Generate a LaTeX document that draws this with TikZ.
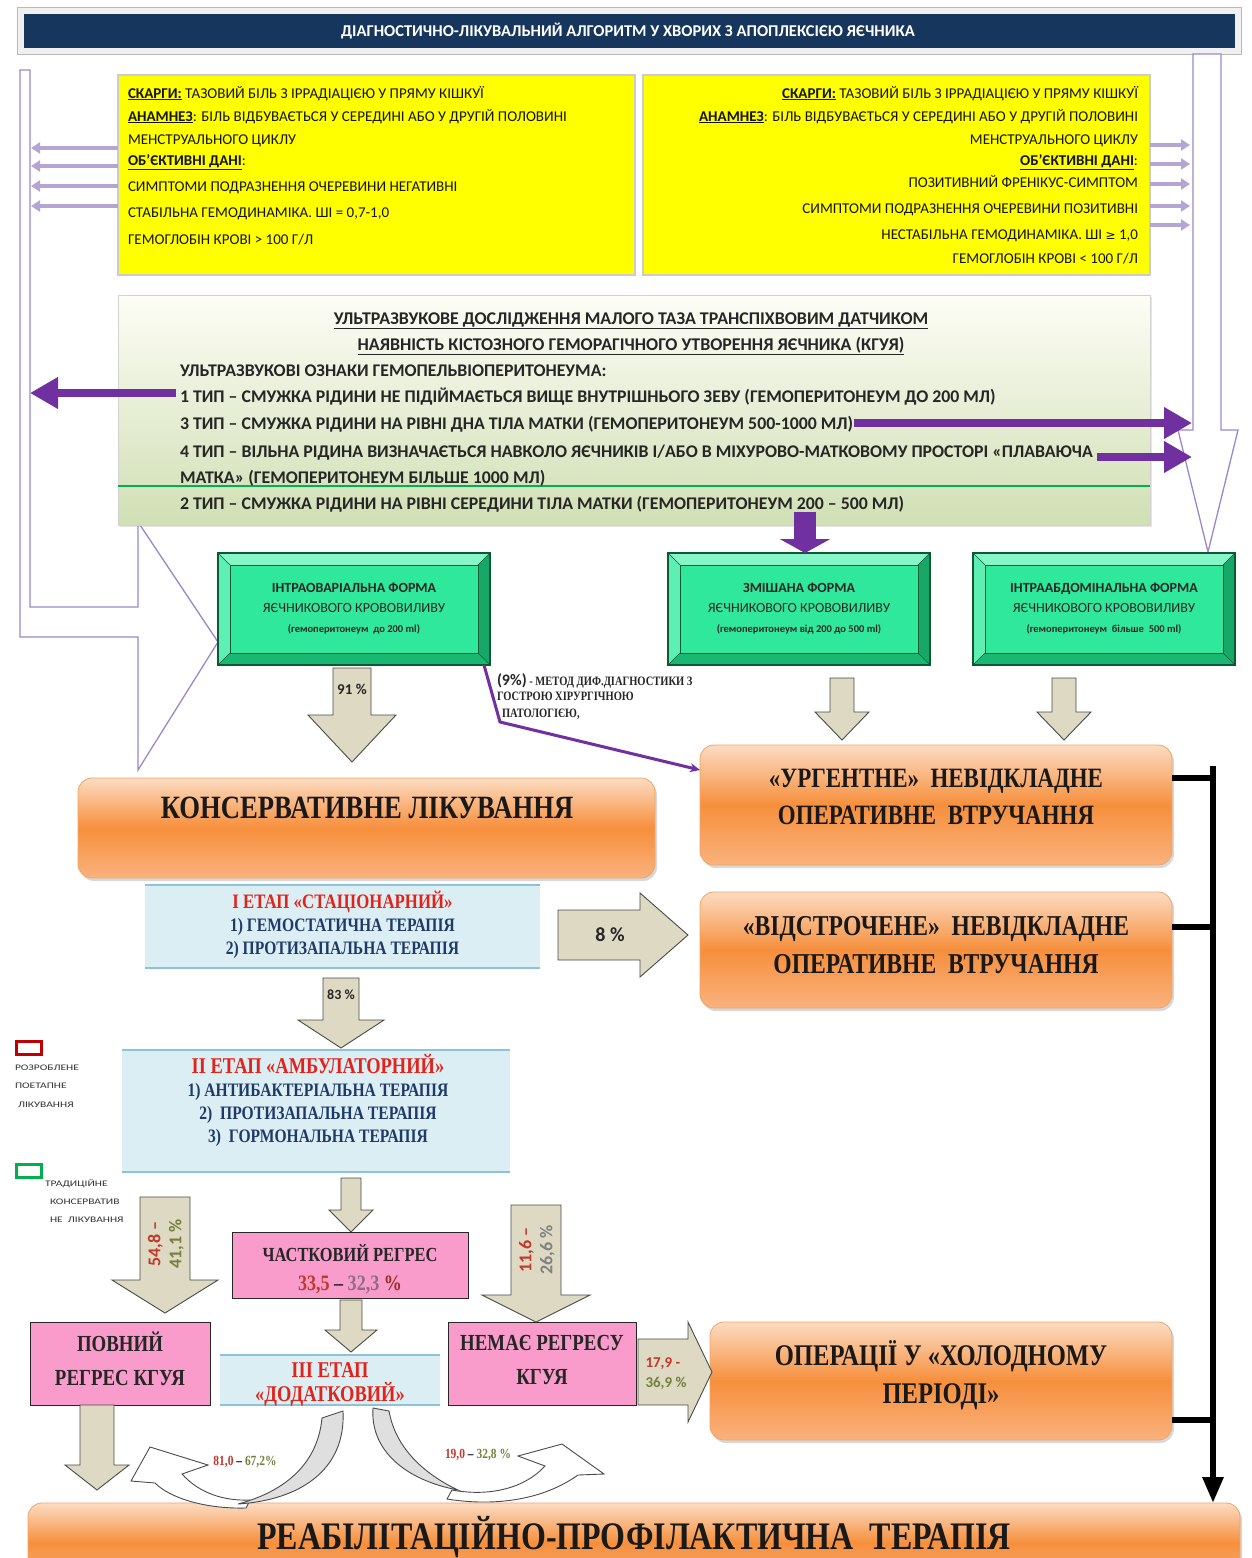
\documentclass[tikz,border=0pt]{standalone}
\usepackage{fontspec}
\setmainfont{Carlito}
\newfontfamily\serifb{Liberation Serif}[FakeStretch=0.82]
\newfontfamily\dejavu{DejaVu Sans}
\newfontfamily\widefont{Carlito}[FakeStretch=1.35]
\usetikzlibrary{arrows.meta,shadows,calc}
\definecolor{navy}{HTML}{17365D}
\definecolor{ylw}{HTML}{FFFF00}
\definecolor{lpur}{HTML}{B4A5D5}
\definecolor{hpur}{HTML}{9C88C8}
\definecolor{dpur}{HTML}{7030A0}
\definecolor{gline}{HTML}{00B050}
\definecolor{ustop}{HTML}{FDFDF6}
\definecolor{usbot}{HTML}{D0DFB4}
\definecolor{bvmid}{HTML}{2FE89C}
\definecolor{bvtop}{HTML}{86F6C8}
\definecolor{bvleft}{HTML}{5DEFB3}
\definecolor{bvbot}{HTML}{19B872}
\definecolor{bvright}{HTML}{17A766}
\definecolor{bvline}{HTML}{0B5A33}
\definecolor{garfill}{HTML}{DDD9C3}
\definecolor{garline}{HTML}{4A4A4A}
\definecolor{orA}{HTML}{FCDCC3}
\definecolor{orB}{HTML}{F68F3C}
\definecolor{orC}{HTML}{FAB27E}
\definecolor{orline}{HTML}{EFA467}
\definecolor{stfill}{HTML}{DBEEF4}
\definecolor{stline}{HTML}{8DC3D6}
\definecolor{stred}{HTML}{E2231A}
\definecolor{stblue}{HTML}{1F3A68}
\definecolor{pinkf}{HTML}{F99CCC}
\definecolor{pred}{HTML}{C0392B}
\definecolor{polive}{HTML}{76803E}
\definecolor{pmauve}{HTML}{8A6E86}
\definecolor{lgred}{HTML}{C00000}
\newcommand{\garrdown}[6]{\draw[garrow] ({#1-#5},#2) -- ({#1+#5},#2) -- ({#1+#5},#3) -- ({#1+#6},#3) -- (#1,#4) -- ({#1-#6},#3) -- ({#1-#5},#3) -- cycle;}
\newcommand{\garrright}[6]{\draw[garrow] (#2,{#1-#5}) -- (#3,{#1-#5}) -- (#3,{#1-#6}) -- (#4,#1) -- (#3,{#1+#6}) -- (#3,{#1+#5}) -- (#2,{#1+#5}) -- cycle;}
\newcommand{\bevelize}[1]{%
 \fill[bvtop] (#1.north west) -- (#1.north east) -- ([shift={(-12pt,-12pt)}]#1.north east) -- ([shift={(12pt,-12pt)}]#1.north west) -- cycle;
 \fill[bvleft] (#1.north west) -- ([shift={(12pt,-12pt)}]#1.north west) -- ([shift={(12pt,12pt)}]#1.south west) -- (#1.south west) -- cycle;
 \fill[bvbot] (#1.south west) -- ([shift={(12pt,12pt)}]#1.south west) -- ([shift={(-12pt,12pt)}]#1.south east) -- (#1.south east) -- cycle;
 \fill[bvright] (#1.north east) -- (#1.south east) -- ([shift={(-12pt,12pt)}]#1.south east) -- ([shift={(-12pt,-12pt)}]#1.north east) -- cycle;
 \draw[bvline, line width=0.6pt] ([shift={(12pt,-12pt)}]#1.north west) rectangle ([shift={(-12pt,12pt)}]#1.south east);
 \draw[bvline, line width=0.6pt] (#1.north west) -- ([shift={(12pt,-12pt)}]#1.north west)
   (#1.north east) -- ([shift={(-12pt,-12pt)}]#1.north east)
   (#1.south west) -- ([shift={(12pt,12pt)}]#1.south west)
   (#1.south east) -- ([shift={(-12pt,12pt)}]#1.south east);
 \draw[bvline, line width=1.2pt] (#1.north west) rectangle (#1.south east);}
\begin{document}
\begin{tikzpicture}[x=1pt,y=-1pt,
  every node/.style={inner sep=0pt, outer sep=0pt},
  yl/.style={anchor=base west, font=\fontsize{15}{18}\selectfont, text=black!92},
  yr/.style={anchor=base east, font=\fontsize{15}{18}\selectfont, text=black!92},
  ust/.style={anchor=base west, font=\bfseries\fontsize{17.8}{20}\selectfont, text=black!85},
  ustc/.style={anchor=base, font=\bfseries\fontsize{17.9}{20}\selectfont, text=black!85},
  hollow/.style={draw=hpur, line width=1.3pt, fill=white},
  lparrow/.style={lpur, line width=3.5pt, -{Triangle[width=11pt,length=9pt]}},
  parrow/.style={dpur, line width=8pt, -{Triangle[width=30pt,length=28pt]}},
  pthin/.style={dpur, line width=3pt, -{Stealth[length=10pt,width=9pt]}},
  garrow/.style={fill=garfill, draw=garline, line width=0.9pt},
  gbox/.style={fill=bvmid, align=center, font=\fontsize{14}{20}\selectfont, text=black!85},
  obox/.style={rounded corners=14pt, draw=orline, line width=0.8pt, top color=orA, bottom color=orC, middle color=orB, drop shadow={opacity=0.3, shadow xshift=2pt, shadow yshift=-3pt}},
  otext/.style={font=\serifb\bfseries\fontsize{28}{37}\selectfont, align=center, text=black!90},
  stbox/.style={fill=stfill},
  sttext/.style={font=\serifb\bfseries\fontsize{19}{23}\selectfont, align=center, text=stblue},
  pbox/.style={fill=pinkf, draw=black!85, line width=1pt},
  ptext/.style={align=center, font=\serifb\bfseries\fontsize{23}{34}\selectfont, text=black!85},
  blk/.style={black, line width=6pt},
  lgtext/.style={anchor=base west, font=\widefont\fontsize{8.5}{10}\selectfont, text=black!80},
  pct/.style={font=\bfseries\fontsize{15}{18}\selectfont, text=black!85},
  crv/.style={draw=garline, line width=0.9pt}
]
\useasboundingbox (0,0) rectangle (1251,1558);
\clip (0,0) rectangle (1251,1558);
\fill[white] (0,0) rectangle (1251,1558);

% title
\fill[gray!12, draw=gray!55, line width=0.8pt] (17,7) rectangle (1241,54);
\node[fill=navy, minimum width=1211pt, minimum height=34pt] (title) at (629,30.5) {};
\node[anchor=base, text=white, font=\bfseries\fontsize{16.5}{20}\selectfont] (titlet) at (628,36) {ДІАГНОСТИЧНО-ЛІКУВАЛЬНИЙ АЛГОРИТМ У ХВОРИХ З АПОПЛЕКСІЄЮ ЯЄЧНИКА};

% hollow arrows
\draw[hollow] (20,70) -- (30,70) -- (30,607) -- (138,607) -- (138,522) -- (218,642) -- (138,770) -- (138,637) -- (20,637) -- cycle;
\draw[hollow] (1193,54) -- (1221,54) -- (1221,430) -- (1238,430) -- (1208,552) -- (1178,430) -- (1193,430) -- cycle;

% yellow boxes
\node[fill=ylw, draw=gray!40, line width=1.5pt, minimum width=517pt, minimum height=200pt] (ly) at (376.5,175) {};
\node[fill=ylw, draw=gray!40, line width=1.5pt, minimum width=507pt, minimum height=200pt] (ry) at (896.5,175) {};
\node[yl] (yl1) at (128,98) {\textbf{\underline{СКАРГИ:}} ТАЗОВИЙ БІЛЬ З ІРРАДІАЦІЄЮ У ПРЯМУ КІШКУЇ};
\node[yl] (yl2) at (128,121) {\textbf{\underline{АНАМНЕЗ}}: БІЛЬ ВІДБУВАЄТЬСЯ У СЕРЕДИНІ АБО У ДРУГІЙ ПОЛОВИНІ};
\node[yl] (yl3) at (128,144) {МЕНСТРУАЛЬНОГО ЦИКЛУ};
\node[yl] (yl4) at (128,165) {\textbf{\underline{ОБ’ЄКТИВНІ ДАНІ}}:};
\node[yl] (yl5) at (128,191) {СИМПТОМИ ПОДРАЗНЕННЯ ОЧЕРЕВИНИ НЕГАТИВНІ};
\node[yl] (yl6) at (128,217) {СТАБІЛЬНА ГЕМОДИНАМІКА. ШІ = 0,7-1,0};
\node[yl] (yl7) at (128,244) {ГЕМОГЛОБІН КРОВІ > 100 Г/Л};
\node[yr] (yr1) at (1138,98) {\textbf{\underline{СКАРГИ:}} ТАЗОВИЙ БІЛЬ З ІРРАДІАЦІЄЮ У ПРЯМУ КІШКУЇ};
\node[yr] (yr2) at (1138,121) {\textbf{\underline{АНАМНЕЗ}}: БІЛЬ ВІДБУВАЄТЬСЯ У СЕРЕДИНІ АБО У ДРУГІЙ ПОЛОВИНІ};
\node[yr] (yr3) at (1138,144) {МЕНСТРУАЛЬНОГО ЦИКЛУ};
\node[yr] (yr4) at (1138,165) {\textbf{\underline{ОБ’ЄКТИВНІ ДАНІ}}:};
\node[yr] (yr5) at (1138,187) {ПОЗИТИВНИЙ ФРЕНІКУС-СИМПТОМ};
\node[yr] (yr6) at (1138,213) {СИМПТОМИ ПОДРАЗНЕННЯ ОЧЕРЕВИНИ ПОЗИТИВНІ};
\node[yr] (yr7) at (1138,239) {НЕСТАБІЛЬНА ГЕМОДИНАМІКА. ШІ {\dejavu\fontsize{12}{14}\selectfont ≥} 1,0};
\node[yr] (yr8) at (1138,263) {ГЕМОГЛОБІН КРОВІ < 100 Г/Л};

% small light purple arrows
\foreach \yy in {148,166,186,206} {
  \coordinate (la\yy) at (31,\yy);
  \draw[lparrow] (ly.west |- la\yy) -- (la\yy);
}
\foreach \yy in {145,164,184,206,225} {
  \coordinate (ra\yy) at (1190,\yy);
  \draw[lparrow] (ry.east |- ra\yy) -- (ra\yy);
}

% ultrasound box
\node[top color=ustop, bottom color=usbot, draw=gray!35, line width=1pt, minimum width=1032pt, minimum height=230pt, drop shadow={opacity=0.2, shadow xshift=2pt, shadow yshift=-2pt}] (us) at (634,410) {};
\draw[gline, line width=2pt] ([yshift=-76pt]us.west) -- ([yshift=-76pt]us.east);
\node[ustc] (uh1) at (631,324) {\underline{УЛЬТРАЗВУКОВЕ ДОСЛІДЖЕННЯ МАЛОГО ТАЗА ТРАНСПІХВОВИМ ДАТЧИКОМ}};
\node[ustc] (uh2) at (631,350) {\underline{НАЯВНІСТЬ КІСТОЗНОГО ГЕМОРАГІЧНОГО УТВОРЕННЯ ЯЄЧНИКА (КГУЯ)}};
\node[ust] (u0) at (180,376) {УЛЬТРАЗВУКОВІ ОЗНАКИ ГЕМОПЕЛЬВІОПЕРИТОНЕУМА:};
\node[ust] (u1) at (180,402) {1 ТИП – СМУЖКА РІДИНИ НЕ ПІДІЙМАЄТЬСЯ ВИЩЕ ВНУТРІШНЬОГО ЗЕВУ (ГЕМОПЕРИТОНЕУМ ДО 200 МЛ)};
\node[ust] (u3) at (180,429) {3 ТИП – СМУЖКА РІДИНИ НА РІВНІ ДНА ТІЛА МАТКИ (ГЕМОПЕРИТОНЕУМ 500-1000 МЛ)};
\node[ust] (u4) at (180,457) {4 ТИП – ВІЛЬНА РІДИНА ВИЗНАЧАЄТЬСЯ НАВКОЛО ЯЄЧНИКІВ І/АБО В МІХУРОВО-МАТКОВОМУ ПРОСТОРІ «ПЛАВАЮЧА};
\node[ust] (u4b) at (180,483) {МАТКА» (ГЕМОПЕРИТОНЕУМ БІЛЬШЕ 1000 МЛ)};
\node[ust] (u2) at (180,509) {2 ТИП – СМУЖКА РІДИНИ НА РІВНІ СЕРЕДИНИ ТІЛА МАТКИ (ГЕМОПЕРИТОНЕУМ 200 – 500 МЛ)};

% purple arrows
\coordinate (pL) at (30,393);
\coordinate (pR1) at (1192,423);
\coordinate (pR2) at (1192,457);
\draw[parrow] ([xshift=-4pt]u1.west |- pL) -- (pL);
\draw[parrow] ([xshift=1pt]u3.east |- pR1) -- (pR1);
\draw[parrow] ([xshift=4pt]u4.east |- pR2) -- (pR2);

% green bevel boxes
\node[gbox, minimum width=272pt, minimum height=112pt] (intra) at (354,609) {};
\node[gbox, minimum width=262pt, minimum height=112pt] (mix) at (799,609) {};
\node[gbox, minimum width=262pt, minimum height=112pt] (abd) at (1104,609) {};
\bevelize{intra}\bevelize{mix}\bevelize{abd}
\node[gbox, fill=none] (intrat) at (intra) {\textbf{ІНТРАОВАРІАЛЬНА ФОРМА}\\ЯЄЧНИКОВОГО КРОВОВИЛИВУ\\{\bfseries\fontsize{10.5}{12}\selectfont (гемоперитонеум~ до 200 ml)}};
\node[gbox, fill=none] (mixt) at (mix) {\textbf{ЗМІШАНА ФОРМА}\\ЯЄЧНИКОВОГО КРОВОВИЛИВУ\\{\bfseries\fontsize{10.5}{12}\selectfont (гемоперитонеум від 200 до 500 ml)}};
\node[gbox, fill=none] (abdt) at (abd) {\textbf{ІНТРААБДОМІНАЛЬНА ФОРМА}\\ЯЄЧНИКОВОГО КРОВОВИЛИВУ\\{\bfseries\fontsize{10.5}{12}\selectfont (гемоперитонеум~ більше~ 500 ml)}};

\coordinate (pm) at (805,512);
\draw[dpur, line width=22pt, -{Triangle[width=50pt,length=14pt]}] (pm) -- (pm |- mix.north);

% gray block arrows
\garrdown{352}{668}{715}{762}{19}{44}
\node[pct] (p91) at (352,689) {91 \%};
\garrdown{842}{678}{712}{740}{12}{27}
\garrdown{1064}{678}{712}{740}{12}{27}

% orange boxes
\node[obox, minimum width=577pt, minimum height=100pt] (cons) at (366.5,828) {};
\node[otext, font=\serifb\bfseries\fontsize{32.5}{38}\selectfont] (const) at (367,808) {КОНСЕРВАТИВНЕ ЛІКУВАННЯ};
\node[obox, minimum width=472pt, minimum height=120pt] (urg) at (936,805) {};
\node[otext] (urgt) at (936,797) {«УРГЕНТНЕ»~ НЕВІДКЛАДНЕ\\ОПЕРАТИВНЕ~ ВТРУЧАННЯ};
\node[obox, minimum width=472pt, minimum height=116pt] (del) at (936,950) {};
\node[otext, font=\serifb\bfseries\fontsize{28.8}{38}\selectfont] (delt) at (936,945) {«ВІДСТРОЧЕНЕ»~ НЕВІДКЛАДНЕ\\ОПЕРАТИВНЕ~ ВТРУЧАННЯ};
\node[obox, minimum width=462pt, minimum height=118pt] (cold) at (941,1381) {};
\node[otext, font=\serifb\bfseries\fontsize{30}{38}\selectfont] (coldt) at (941,1375) {ОПЕРАЦІЇ У «ХОЛОДНОМУ\\ПЕРІОДІ»};
\node[obox, minimum width=1212pt, minimum height=80pt] (reh) at (634,1543) {};
\node[otext, font=\serifb\bfseries\fontsize{39}{42}\selectfont] (reht) at (634,1537) {РЕАБІЛІТАЦІЙНО-ПРОФІЛАКТИЧНА~ ТЕРАПІЯ};

% 9% note and thin purple connector
\coordinate (pk) at (500,722);
\draw[pthin] ([xshift=-6pt]intra.south east) -- (pk) -- ([yshift=35pt]urg.west);
\node[anchor=base west, font=\serifb\bfseries\fontsize{12.8}{13}\selectfont, text=black!85] (note) at (497,685) {{\normalfont\bfseries\fontsize{16}{16}\selectfont (9\%)} - МЕТОД ДИФ.ДІАГНОСТИКИ З};
\node[anchor=base west, font=\serifb\bfseries\fontsize{12.8}{13}\selectfont, text=black!85] (note2) at (497,700) {ГОСТРОЮ ХІРУРГІЧНОЮ};
\node[anchor=base west, font=\serifb\bfseries\fontsize{12.8}{13}\selectfont, text=black!85] (note3) at (502,717) {ПАТОЛОГІЄЮ,};

% black bus
\coordinate (bt) at (1213,766);
\coordinate (ue) at ([yshift=27pt]urg.east);
\coordinate (de) at ([yshift=23pt]del.east);
\coordinate (ce) at ([yshift=-39pt]cold.east);
\draw[blk, -{Triangle[width=20pt,length=26pt]}] (bt) -- (bt |- reh.north);
\draw[blk] (ue) -- (bt |- ue);
\draw[blk] (de) -- (bt |- de);
\draw[blk] (ce) -- (bt |- ce);

% stage boxes
\node[stbox, minimum width=395pt, minimum height=83pt] (st1) at (342.5,926.5) {};
\draw[stline, line width=1.5pt] (st1.north west) -- (st1.north east) (st1.south west) -- (st1.south east);
\node[sttext] (st1t) at (342.5,925) {\textcolor{stred}{\fontsize{20.5}{23}\selectfont І ЕТАП «СТАЦІОНАРНИЙ»}\\1) ГЕМОСТАТИЧНА ТЕРАПІЯ\\2) ПРОТИЗАПАЛЬНА ТЕРАПІЯ};
\node[stbox, minimum width=388pt, minimum height=122pt] (st2) at (316,1111) {};
\draw[stline, line width=1.5pt] (st2.north west) -- (st2.north east) (st2.south west) -- (st2.south east);
\node[sttext] (st2t) at (318,1100) {\textcolor{stred}{\fontsize{22.5}{23}\selectfont ІІ ЕТАП «АМБУЛАТОРНИЙ»}\\1) АНТИБАКТЕРІАЛЬНА ТЕРАПІЯ\\2)~ ПРОТИЗАПАЛЬНА ТЕРАПІЯ\\3)~ ГОРМОНАЛЬНА ТЕРАПІЯ};
\node[stbox, minimum width=220pt, minimum height=50pt] (st3) at (330,1380) {};
\draw[stline, line width=1.5pt] (st3.north west) -- (st3.north east) (st3.south west) -- (st3.south east);
\node[sttext, text=stred, font=\serifb\bfseries\fontsize{22.5}{24}\selectfont] (st3t) at (330,1384) {ІІІ ЕТАП\\«ДОДАТКОВИЙ»};

% arrows around stages
\garrright{935}{558}{640}{688}{25}{42}
\node[pct, font=\bfseries\fontsize{20}{22}\selectfont] (p8) at (610,935) {8 \%};
\garrdown{341}{978}{1020}{1048}{18}{43}
\node[pct, font=\bfseries\fontsize{14}{16}\selectfont] (p83) at (341,995) {83 \%};
\garrdown{351}{1178}{1210}{1232}{10}{22}

% pink boxes
\node[pbox, minimum width=236pt, minimum height=66pt] (part) at (350,1265) {};
\node[ptext, font=\serifb\bfseries\fontsize{20}{29}\selectfont] (partt) at (350,1269) {ЧАСТКОВИЙ РЕГРЕС\\{\fontsize{22}{22}\selectfont\textcolor{pred}{33,5} – \textcolor{pmauve}{32,3} \textcolor{pred!80!black}{\%}}};
\node[pbox, minimum width=180pt, minimum height=83pt] (full) at (120,1363.5) {};
\node[ptext] (fullt) at (120,1359) {ПОВНИЙ\\РЕГРЕС КГУЯ};
\node[pbox, minimum width=188pt, minimum height=83pt] (none) at (542,1363.5) {};
\node[ptext] (nonet) at (542,1360) {НЕМАЄ РЕГРЕСУ\\КГУЯ};

\garrdown{165}{1197}{1280}{1313}{25}{53}
\node[rotate=90, align=center, font=\bfseries\fontsize{18}{21}\selectfont] (l54) at (166,1244) {\textcolor{pred}{54,8 –}\\\textcolor{polive}{41,1 \%}};
\garrdown{536}{1205}{1295}{1322}{25}{54}
\node[rotate=90, align=center, font=\bfseries\fontsize{18}{21}\selectfont] (l11) at (537,1250) {\textcolor{pred}{11,6 –}\\\textcolor{gray}{26,6 \%}};
\garrdown{351}{1300}{1330}{1352}{11}{26}
\garrright{1372}{638}{688}{712}{33}{50}
\node[align=left, font=\bfseries\fontsize{15}{20}\selectfont] (l17) at (666,1374) {\textcolor{pred}{17,9 -}\\\textcolor{polive}{36,9 \%}};
\garrdown{97}{1405}{1465}{1490}{17}{32}

% curved arrows
\draw[crv, fill=white] (150,1447) -- (208,1465) -- (182,1474) .. controls (200,1494) and (225,1501) .. (250,1500) -- (246,1508) .. controls (205,1509) and (170,1498) .. (155,1483) -- (131,1481) -- cycle;
\draw[crv, fill=gray!25] (343,1411) .. controls (346,1470) and (300,1500) .. (238,1504) .. controls (290,1490) and (318,1460) .. (322,1418) -- cycle;
\draw[crv, fill=white] (562,1444) -- (604,1474) -- (578,1475) .. controls (540,1502) and (490,1506) .. (447,1499) -- (452,1490) .. controls (490,1497) and (525,1488) .. (545,1466) -- (518,1456) -- cycle;
\draw[crv, fill=gray!25] (373,1408) .. controls (370,1450) and (405,1480) .. (458,1490) .. controls (420,1472) and (395,1445) .. (389,1411) -- cycle;
\node[font=\serifb\bfseries\fontsize{14}{15}\selectfont] (l81) at (245,1462) {\textcolor{pred}{81,0} – \textcolor{polive}{67,2\%}};
\node[font=\serifb\bfseries\fontsize{14}{15}\selectfont] (l19) at (478,1455) {\textcolor{pred}{19,0} – \textcolor{polive}{32,8 \%}};

% legend
\draw[lgred, line width=3pt] (16,1041) rectangle (41,1054);
\node[lgtext] (lg1) at (15,1070) {РОЗРОБЛЕНЕ};
\node[lgtext] (lg2) at (15,1088) {ПОЕТАПНЕ};
\node[lgtext] (lg3) at (18,1107) {ЛІКУВАННЯ};
\draw[gline, line width=3pt] (16,1164) rectangle (41,1177);
\node[lgtext] (lg4) at (45,1186) {ТРАДИЦІЙНЕ};
\node[lgtext] (lg5) at (50,1204) {КОНСЕРВАТИВ};
\node[lgtext] (lg6) at (50,1222) {НЕ~ ЛІКУВАННЯ};
\end{tikzpicture}
\end{document}
